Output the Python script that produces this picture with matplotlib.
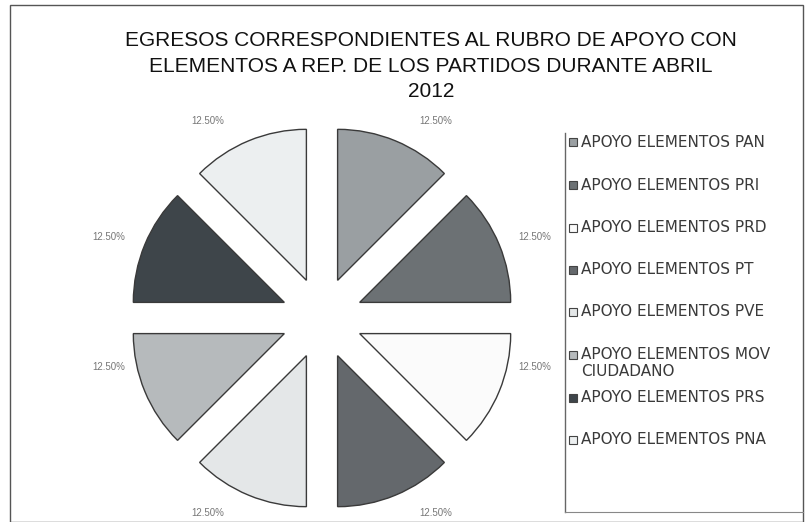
import matplotlib
matplotlib.use("Agg")
import matplotlib.pyplot as plt
from matplotlib.patches import Rectangle
from matplotlib.lines import Line2D

categories = ["APOYO ELEMENTOS PAN", "APOYO ELEMENTOS PRI", "APOYO ELEMENTOS PRD",
              "APOYO ELEMENTOS PT", "APOYO ELEMENTOS PVE", "APOYO ELEMENTOS MOV\nCIUDADANO",
              "APOYO ELEMENTOS PRS", "APOYO ELEMENTOS PNA"]
values = [12.5, 12.5, 12.5, 12.5, 12.5, 12.5, 12.5, 12.5]
pct_labels = ["12.50%"] * 8
colors = ["#9a9fa2", "#6c7174", "#fbfbfb", "#64686c", "#e4e7e8", "#b6babc", "#3e454a", "#eceff0"]

title = "EGRESOS CORRESPONDIENTES AL RUBRO DE APOYO CON\nELEMENTOS A REP. DE LOS PARTIDOS DURANTE ABRIL\n2012"

W, H = 806, 522
fig = plt.figure(figsize=(W / 100, H / 100), dpi=100)
fig.patch.set_facecolor("white")

# pie axes covering the figure with 151 px per unit radius
cx, cy, R = 322, 318, 151
ax = fig.add_axes([0, 0, 1, 1])
wedges, texts = ax.pie(values, colors=colors, startangle=90, counterclock=False,
                       explode=[0.27] * 8, labels=pct_labels, labeldistance=1.14,
                       wedgeprops=dict(edgecolor="#3a3a3a", linewidth=1.0),
                       textprops=dict(fontsize=7, color="#777777", family="Liberation Sans"))
ax.set_xlim(-cx / R, (W - cx) / R)
ax.set_ylim(-(H - cy) / R, cy / R)
ax.set_aspect("auto")
ax.axis("off")

# nudge labels toward the reference's outside-end placement
for t in texts:
    x, y = t.get_position()
    if abs(y) > abs(x):          # top / bottom labels: shift outward horizontally
        t.set_position((x * 1.2, y * (1.0 if y > 0 else 0.99)))
    else:                        # side labels
        t.set_position((x, y * (1.0 if y > 0 else 0.6)))

# title
fig.text(0.535, 1 - 66 / H, title, ha="center", va="center", fontsize=15,
         family="Liberation Sans", color="#111111", linespacing=1.45)

# outer frame
fig.add_artist(Rectangle((10 / W, 0.0), (803 - 10) / W, (H - 5) / H, transform=fig.transFigure,
                         fill=False, edgecolor="#555555", linewidth=1.0))
# legend frame (left and bottom edges)
fig.add_artist(Line2D([565 / W, 565 / W], [1 - 133 / H, 1 - 512 / H], transform=fig.transFigure,
                      color="#666666", linewidth=1.0))
fig.add_artist(Line2D([565 / W, 803 / W], [1 - 512 / H, 1 - 512 / H], transform=fig.transFigure,
                      color="#888888", linewidth=0.8))

# legend entries
ys = [142, 185, 228, 270, 312, 355, 398, 440]
for y, lab, col in zip(ys, categories, colors):
    fig.add_artist(Rectangle((569 / W, 1 - (y + 4) / H), 8 / W, 8 / H, transform=fig.transFigure,
                             facecolor=col, edgecolor="#444444", linewidth=0.8))
    if "\n" in lab:
        fig.text(581 / W, 1 - (y - 8) / H, lab, ha="left", va="top",
                 fontsize=11, family="DejaVu Sans", color="#3a3a3a", linespacing=1.2)
    else:
        fig.text(581 / W, 1 - y / H, lab, ha="left", va="center",
                 fontsize=11, family="DejaVu Sans", color="#3a3a3a")

fig.savefig("out.png", dpi=100, facecolor="white")
